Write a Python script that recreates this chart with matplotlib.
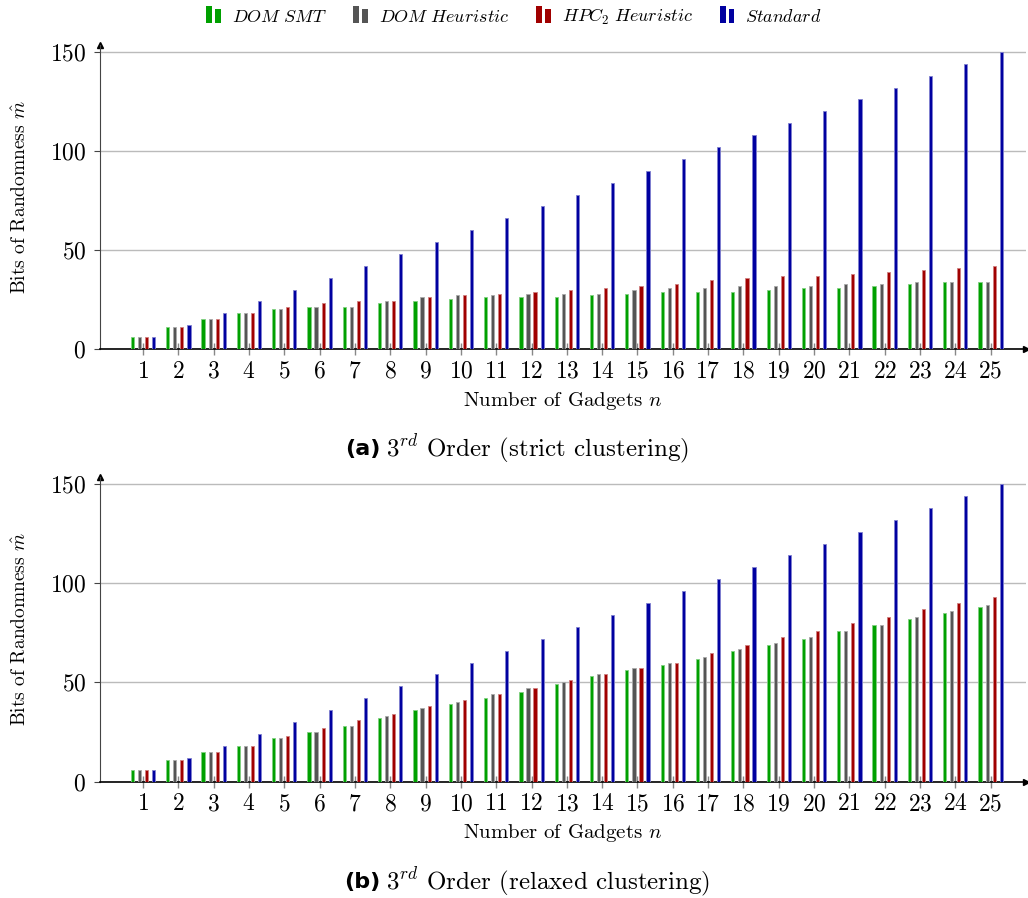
import matplotlib
matplotlib.use("Agg")
import matplotlib.pyplot as plt
from matplotlib.legend_handler import HandlerBase
from matplotlib.patches import Rectangle
import numpy as np

plt.rcParams['font.family'] = 'serif'
plt.rcParams['font.serif'] = ['cmr10', 'DejaVu Serif']
plt.rcParams['mathtext.fontset'] = 'cm'
plt.rcParams['axes.formatter.use_mathtext'] = True

# gadget counts
gadgets = list(range(1, 26))

# (a) strict clustering
strict_smt = [6, 11, 15, 18, 20, 21, 21, 23, 24, 25, 26, 26, 26, 27, 28, 29, 29, 29, 30, 31, 31, 32, 33, 34, 34]
strict_dom = [6, 11, 15, 18, 20, 21, 21, 24, 26, 27, 27, 28, 28, 28, 30, 31, 31, 32, 32, 32, 33, 33, 34, 34, 34]
strict_hpc = [6, 11, 15, 18, 21, 23, 24, 24, 26, 27, 28, 29, 30, 31, 32, 33, 35, 36, 37, 37, 38, 39, 40, 41, 42]
strict_std = [6, 12, 18, 24, 30, 36, 42, 48, 54, 60, 66, 72, 78, 84, 90, 96, 102, 108, 114, 120, 126, 132, 138, 144, 150]

# (b) relaxed clustering
relax_smt = [6, 11, 15, 18, 22, 25, 28, 32, 36, 39, 42, 45, 49, 53, 56, 59, 62, 66, 69, 72, 76, 79, 82, 85, 88]
relax_dom = [6, 11, 15, 18, 22, 25, 28, 33, 37, 40, 44, 47, 50, 54, 57, 60, 63, 67, 70, 73, 76, 79, 83, 86, 89]
relax_hpc = [6, 11, 15, 18, 23, 27, 31, 34, 38, 41, 44, 47, 51, 54, 57, 60, 65, 69, 73, 76, 80, 83, 87, 90, 93]
relax_std = [6, 12, 18, 24, 30, 36, 42, 48, 54, 60, 66, 72, 78, 84, 90, 96, 102, 108, 114, 120, 126, 132, 138, 144, 150]

labels = [r'$DOM\ SMT$', r'$DOM\ Heuristic$', r'$HPC_2\ Heuristic$', r'$Standard$']
colors = ['#00a000', '#555555', '#a00000', '#0000a0']
edges = ['#80d080', '#aaaaaa', '#d08080', '#8080d0']


class TwoBars(HandlerBase):
    # legend icon made of two little bars like pgfplots ybar legend
    def create_artists(self, legend, orig_handle, xdescent, ydescent,
                       width, height, fontsize, trans):
        c = orig_handle.get_facecolor()
        w = width * 0.35
        r1 = Rectangle((-xdescent, -ydescent), w, height * 1.15, facecolor=c,
                       edgecolor='none', transform=trans)
        r2 = Rectangle((-xdescent + w * 1.5, -ydescent), w, height * 0.95,
                       facecolor=c, edgecolor='none', transform=trans)
        return [r1, r2]


def draw_panel(ax, series, caption_tag, caption):
    x = np.array(gadgets)
    offs = [-0.3, -0.1, 0.1, 0.3]
    for vals, off, c, e, lab in zip(series, offs, colors, edges, labels):
        ax.bar(x + off, vals, width=0.09, color=c, edgecolor=e,
               linewidth=0.6, label=lab, zorder=3)
    ax.set_xlim(-0.218, 26.0)
    ax.set_ylim(0, 153.5)
    ax.set_xticks(gadgets)
    ax.set_yticks([0, 50, 100, 150])
    ax.yaxis.grid(True, color='#bbbbbb', linewidth=1.0, zorder=0)
    ax.set_axisbelow(True)
    for s in ['top', 'right']:
        ax.spines[s].set_visible(False)
    ax.spines['left'].set_color('#444444')
    ax.spines['bottom'].set_color('black')
    ax.spines['bottom'].set_linewidth(1.2)
    ax.tick_params(axis='x', direction='inout', length=9, width=1.0,
                   color='#888888', labelsize=17, pad=4)
    ax.tick_params(axis='y', direction='out', length=4, width=0.8,
                   color='#444444', labelsize=17, pad=6)
    ax.plot(0, 1, marker='^', color='black', markersize=5,
            transform=ax.transAxes, clip_on=False)
    ax.plot(1, 0, marker='>', color='black', markersize=5,
            transform=ax.transAxes, clip_on=False)
    ax.set_xlabel(r'Number of Gadgets $n$', fontsize=15, labelpad=5)
    ax.set_ylabel(r'Bits of Randomness $\hat{m}$', fontsize=14, labelpad=14)
    ax.text(0.303, -0.33, caption_tag, transform=ax.transAxes, ha='right',
            va='center', fontsize=16, fontweight='bold', family='DejaVu Sans')
    ax.text(0.309, -0.33, caption, transform=ax.transAxes, ha='left',
            va='center', fontsize=18)


fig = plt.figure(figsize=(10.28, 8.98), dpi=100)
ax1 = fig.add_axes([0.0973, 0.6114, 0.9007, 0.3385])
ax2 = fig.add_axes([0.0973, 0.1297, 0.9007, 0.339])

draw_panel(ax1, [strict_smt, strict_dom, strict_hpc, strict_std], '(a)',
           r'$3^{rd}$ Order (strict clustering)')
draw_panel(ax2, [relax_smt, relax_dom, relax_hpc, relax_std], '(b)',
           r'$3^{rd}$ Order (relaxed clustering)')

h, l = ax1.get_legend_handles_labels()
handles = [Rectangle((0, 0), 1, 1, facecolor=c) for c in colors]
fig.legend(handles, l, loc='center', bbox_to_anchor=(0.5, 0.981), ncol=4,
           frameon=False, fontsize=13, handlelength=0.9, handleheight=0.9,
           handletextpad=0.5, columnspacing=1.5,
           handler_map={Rectangle: TwoBars()})

fig.savefig('out.png', dpi=100)
